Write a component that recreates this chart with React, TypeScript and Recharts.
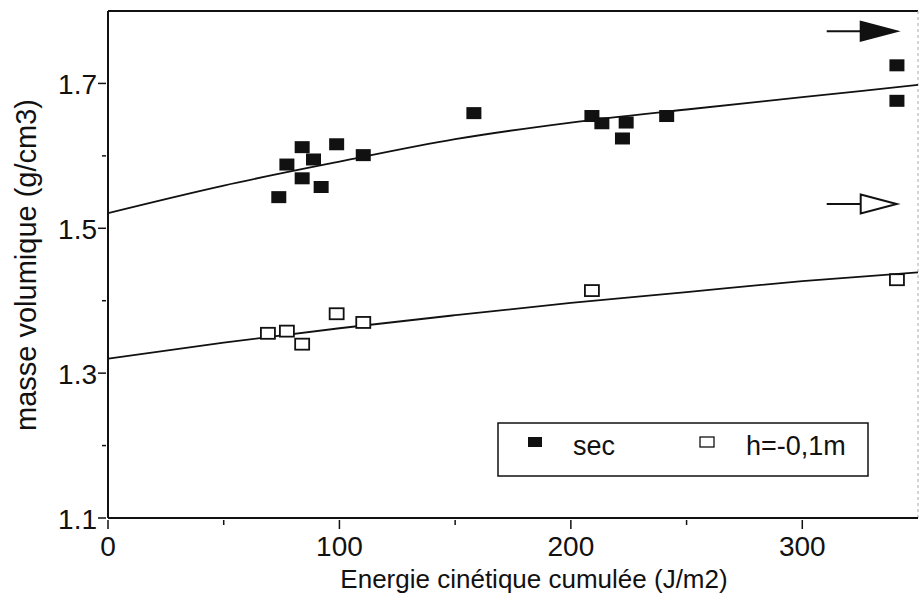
import { ComposedChart, XAxis, YAxis, Scatter, Line, ReferenceLine, ReferenceDot, Legend } from "recharts";

// regression curves at every 50 J/m2
const fitX = [0, 50, 100, 150, 200, 250, 300, 350];
const fitSec = [1.521, 1.559, 1.592, 1.623, 1.646, 1.664, 1.681, 1.698];
const fitHum = [1.32, 1.342, 1.362, 1.38, 1.397, 1.412, 1.427, 1.439];

// measured points, sec (filled squares)
const secX = [73.8, 77.3, 83.9, 83.9, 88.8, 92.1, 98.8, 110.3, 158.1, 209.1, 213.4, 223.9, 222.3, 241.4, 340.9, 340.9];
const secY = [1.543, 1.588, 1.612, 1.569, 1.595, 1.557, 1.616, 1.601, 1.659, 1.655, 1.645, 1.646, 1.624, 1.655, 1.725, 1.676];

// measured points, h=-0,1m (open squares)
const humX = [69.1, 77.3, 83.9, 98.8, 110.3, 209.1, 340.9];
const humY = [1.355, 1.358, 1.34, 1.382, 1.37, 1.414, 1.429];

const xTicks = [0, 50, 100, 150, 200, 250, 300];
const xTickLabels = ["0", "", "100", "", "200", "", "300"];
const yTicks = [1.1, 1.2, 1.3, 1.4, 1.5, 1.6, 1.7];
const yTickLabels = ["1.1", "", "1.3", "", "1.5", "", "1.7"];

// asymptote arrows (tip position)
const arrowX = 340.8;
const arrowSecY = 1.772;
const arrowHumY = 1.5335;

const secData = secX.map((x, i) => ({ x, y: secY[i] }));
const humData = humX.map((x, i) => ({ x, y: humY[i] }));
const fitSecData = fitX.map((x, i) => ({ x, y: fitSec[i] }));
const fitHumData = fitX.map((x, i) => ({ x, y: fitHum[i] }));

const FONT = "'Liberation Sans', Arial, Helvetica, sans-serif";
const INK = "#111";

function XTick({ x, y, payload }: any) {
  const i = xTicks.indexOf(payload.value);
  const label = xTickLabels[i];
  return (
    <g>
      <line x1={x} x2={x} y1={y} y2={y + (label ? 9 : 5)} stroke={INK} strokeWidth={1.5} />
      {label && (
        <text x={x} y={y + 36} textAnchor="middle" fontSize={28} fontFamily={FONT} fill={INK}>
          {label}
        </text>
      )}
    </g>
  );
}

function YTick({ x, y, payload }: any) {
  const i = yTicks.indexOf(payload.value);
  const label = yTickLabels[i];
  return (
    <g>
      <line x1={x} x2={x - (label ? 8 : 4)} y1={y} y2={y} stroke={INK} strokeWidth={1.5} />
      {label && (
        <text x={x - 9} y={y + 11} textAnchor="end" fontSize={28} fontFamily={FONT} fill={INK}>
          {label}
        </text>
      )}
    </g>
  );
}

const XTitle = () => (
  <text x={534} y={588} textAnchor="middle" fontSize={26} fontFamily={FONT} fill={INK}>
    Energie cinétique cumulée (J/m2)
  </text>
);

const YTitle = () => (
  <text x={36} y={265} transform="rotate(-90 36 265)" textAnchor="middle" fontSize={29} fontFamily={FONT} fill={INK}>
    masse volumique (g/cm3)
  </text>
);

const FilledSquare = ({ cx, cy }: any) => <rect x={cx - 7.5} y={cy - 6} width={15} height={12} fill={INK} />;
const OpenSquare = ({ cx, cy }: any) => (
  <rect x={cx - 7} y={cy - 5.5} width={14} height={11} fill="#fff" stroke={INK} strokeWidth={1.8} />
);

const arrow = (filled: boolean) => ({ cx, cy }: any) => (
  <g>
    <line x1={cx - 70} x2={cx - 36} y1={cy} y2={cy} stroke={INK} strokeWidth={2} />
    <polygon
      points={`${cx - 36},${cy - 9.5} ${cx},${cy} ${cx - 36},${cy + 9.5}`}
      fill={filled ? INK : "#fff"}
      stroke={INK}
      strokeWidth={2}
    />
  </g>
);

function LegendBox() {
  return (
    <svg width={372} height={55} style={{ display: "block" }}>
      <rect x={1} y={1} width={370} height={53} fill="#fff" stroke={INK} strokeWidth={1.5} />
      <rect x={31} y={15} width={14} height={10} fill={INK} />
      <text x={76} y={33} fontSize={27} fontFamily={FONT} fill={INK}>sec</text>
      <rect x={203} y={15} width={14} height={10} fill="#fff" stroke={INK} strokeWidth={1.3} />
      <text x={249} y={33} fontSize={27} fontFamily={FONT} fill={INK}>h=-0,1m</text>
    </svg>
  );
}

export default function App() {
  return (
    <div style={{ position: "absolute", left: 0, top: 0, background: "#fff" }}>
      <ComposedChart width={919} height={594} margin={{ top: 11, right: 1, bottom: 0, left: 8 }}>
        <XAxis
          type="number"
          dataKey="x"
          domain={[0, 350]}
          ticks={xTicks}
          interval={0}
          tickSize={0}
          tickLine={false}
          tick={<XTick />}
          axisLine={{ stroke: INK, strokeWidth: 2 }}
          height={76}
          allowDataOverflow
          label={<XTitle />}
        />
        <YAxis
          type="number"
          domain={[1.1, 1.8]}
          ticks={yTicks}
          interval={0}
          tickSize={0}
          tickLine={false}
          tick={<YTick />}
          axisLine={{ stroke: INK, strokeWidth: 2 }}
          width={100}
          allowDataOverflow
          label={<YTitle />}
        />
        <ReferenceLine y={1.8} stroke={INK} strokeWidth={2} />
        <ReferenceLine x={350} stroke="#aaa" strokeWidth={1} strokeDasharray="3 3" />
        <Line data={fitSecData} dataKey="y" type="monotone" stroke={INK} strokeWidth={1.8} dot={false} isAnimationActive={false} />
        <Line data={fitHumData} dataKey="y" type="monotone" stroke={INK} strokeWidth={1.8} dot={false} isAnimationActive={false} />
        <Scatter data={secData} dataKey="y" shape={<FilledSquare />} isAnimationActive={false} />
        <Scatter data={humData} dataKey="y" shape={<OpenSquare />} isAnimationActive={false} />
        <ReferenceDot x={arrowX} y={arrowSecY} shape={arrow(true)} />
        <ReferenceDot x={arrowX} y={arrowHumY} shape={arrow(false)} />
        <Legend
          layout="vertical"
          align="center"
          verticalAlign="middle"
          wrapperStyle={{ left: 497, top: 422, width: 372, height: 55 }}
          content={() => <LegendBox />}
        />
      </ComposedChart>
    </div>
  );
}
